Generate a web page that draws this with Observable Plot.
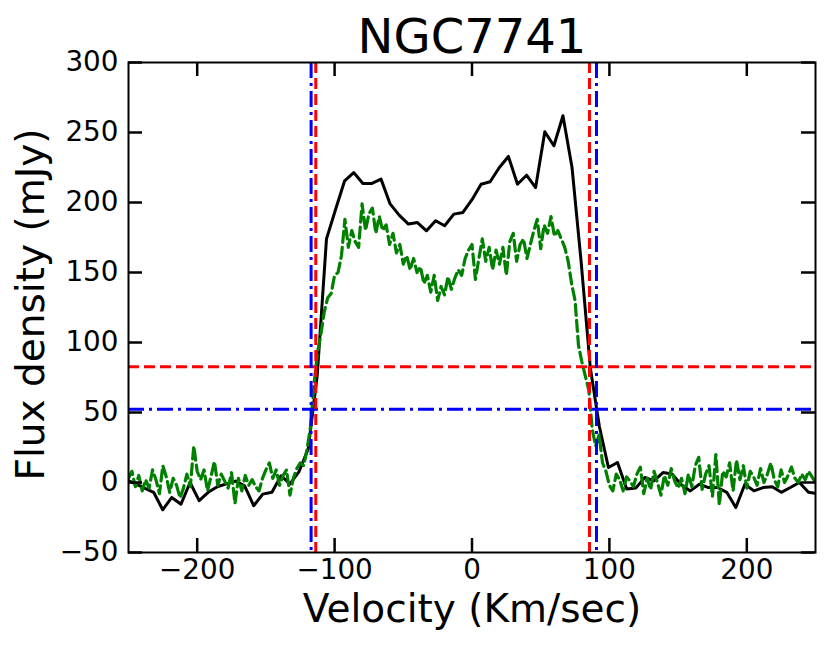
<!DOCTYPE html>
<html>
<head>
<meta charset="utf-8">
<script src="https://cdn.jsdelivr.net/npm/d3@7"></script>
<script src="https://cdn.jsdelivr.net/npm/@observablehq/plot@0.6"></script>
<style>
  html, body { margin: 0; padding: 0; background: #fff; }
</style>
</head>
<body>
<div id="chart"></div>
<script>
const title = "NGC7741";
const xLabel = "Velocity (Km/sec)";
const yLabel = "Flux density (mJy)";
const xTicks = [-200, -100, 0, 100, 200];
const yTicks = [-50, 0, 50, 100, 150, 200, 250, 300];

const blackVel = [-251.6, -244.9, -238.3, -231.7, -225.1, -218.5, -211.8, -205.2, -198.6, -192.0, -185.4, -178.7, -172.1, -165.5, -158.9, -152.3, -145.6, -139.0, -132.4, -125.8, -119.2, -112.6, -105.9, -99.3, -92.7, -86.1, -79.4, -72.8, -66.2, -59.6, -53.0, -46.3, -39.7, -33.1, -26.5, -19.9, -13.2, -6.6, 0, 6.6, 13.2, 19.9, 26.5, 33.1, 39.7, 46.3, 53.0, 59.6, 66.2, 72.8, 79.4, 86.1, 92.7, 99.3, 105.9, 112.6, 119.2, 125.8, 132.4, 139.0, 145.6, 152.3, 158.9, 165.5, 172.1, 178.7, 185.4, 192.0, 198.6, 205.2, 211.8, 218.5, 225.1, 231.7, 238.3, 244.9, 251.6];
const blackFlux = [2, -1, -4, -7, -19.5, -10.7, -15.5, 0, -13, -7, -3, -1, 1, -2.4, -16.6, -8.3, -7, 4.8, -1, 8, 24, 77, 174, 195, 215.5, 221.4, 213.6, 213.6, 216.7, 199, 191, 184.6, 185.7, 179.8, 187, 183.4, 191.7, 192.9, 202, 213, 214.8, 225, 232.9, 213, 219.5, 210.7, 250.5, 240.5, 262, 225, 158, 82, 40, 10.7, 14.3, -4.7, -4, 3.6, 1.2, 7.1, 6, -1.6, -6, -1.2, -3.6, -3.6, -7, -17.9, -1.2, -6, -3.6, -3, -7, -3.6, 0, -7, -8];

const greenVel = [-250, -247.5, -245, -242.5, -240, -237.5, -235, -232.5, -230, -227.5, -225, -222.5, -220, -217.5, -215, -212.5, -210, -207.5, -205, -202.5, -200, -197.5, -195, -192.5, -190, -187.5, -185, -182.5, -180, -177.5, -175, -172.5, -170, -167.5, -165, -162.5, -160, -157.5, -155, -152.5, -150, -147.5, -145, -142.5, -140, -137.5, -135, -132.5, -130, -127.5, -125, -122.5, -120, -117.5, -115, -112.5, -110, -107.5, -105, -102.5, -100, -97.5, -95, -92.5, -90, -87.5, -85, -82.5, -80, -77.5, -75, -72.5, -70, -67.5, -65, -62.5, -60, -57.5, -55, -52.5, -50, -47.5, -45, -42.5, -40, -37.5, -35, -32.5, -30, -27.5, -25, -22.5, -20, -17.5, -15, -12.5, -10, -7.5, -5, -2.5, 0, 2.5, 5, 7.5, 10, 12.5, 15, 17.5, 20, 22.5, 25, 27.5, 30, 32.5, 35, 37.5, 40, 42.5, 45, 47.5, 50, 52.5, 55, 57.5, 60, 62.5, 65, 67.5, 70, 72.5, 75, 77.5, 80, 82.5, 85, 87.5, 90, 92.5, 95, 97.5, 100, 102.5, 105, 107.5, 110, 112.5, 115, 117.5, 120, 122.5, 125, 127.5, 130, 132.5, 135, 137.5, 140, 142.5, 145, 147.5, 150, 152.5, 155, 157.5, 160, 162.5, 165, 167.5, 170, 172.5, 175, 177.5, 180, 182.5, 185, 187.5, 190, 192.5, 195, 197.5, 200, 202.5, 205, 207.5, 210, 212.5, 215, 217.5, 220, 222.5, 225, 227.5, 230, 232.5, 235, 237.5, 240, 242.5, 245, 247.5, 250];
const greenFlux = [3, 8, -3, 5, -6, 2, -4, 9, 2, -8, 12, 4, -7, 3, -2, -11, -4, 6, -3, 26, 8, 2, 9, -6, 4, 15, -2, 6, 1, -4, 7, -15, 3, -6, 5, -2, 2, -3, -6, 3, 9, 14, 3, 9, -2, 5, 9, -9, 3, 10, 14,
  12, 24, 40, 70, 92, 106, 122, 132, 135, 148, 150, 162, 188, 168, 180, 172, 168, 199, 180, 192, 196, 178, 190, 180, 184, 170, 178, 164, 170, 156, 162, 152, 160, 150, 154, 142, 148, 136, 148, 130, 140, 134, 147, 138, 146, 152, 148, 160, 166, 170,
  145, 160, 174, 158, 168, 152, 166, 156, 168, 148, 172, 178, 158, 170, 174, 160, 170, 180, 188, 167, 184, 178, 190, 176, 180, 174, 168, 158, 142, 130, 98, 86, 76, 66, 38, 26, 34, 14, 8, -2, -6, 6, 2, -6, 4, 1, -3, 6, 11, -8, 3, -5, 8, 0, -9, 5, -2, 10, 1, -4, 3, -8, 6, -3, 12, 18, -5, 6, 12, -10, 20, -16, 8, 4, 14, -6, 16, 2, 12, -4, 8, 4, -2, 10, 0, 6, 14, 2, -3, 9, 0, 5, 11, 3, 0, 6, 2, 8, 4, 0];

const hLineValues = [82.6, 52.4];
const hLineColors = ["red", "blue"];
const vLineRed = [-113.7, 85.5];
const vLineBlue = [-117.1, 90.6];

const W = 830, H = 646;
const mL = 128, mR = 15, mT = 62, mB = 94;
const plotW = W - mL - mR, plotH = H - mT - mB;
const tickLen = 14;

const black = blackVel.map((v, i) => ({v, f: blackFlux[i]}));
const green = greenVel.map((v, i) => ({v, f: greenFlux[i]}));
const fmt = d => d < 0 ? "\u2212" + Math.abs(d) : String(d);

const chart = Plot.plot({
  width: W,
  height: H,
  marginLeft: mL,
  marginRight: mR,
  marginTop: mT,
  marginBottom: mB,
  style: {fontFamily: "DejaVu Sans", fontSize: "27.8px", color: "black", background: "white"},
  x: {domain: [-250, 250], ticks: xTicks, tickSize: 0, tickPadding: 7, tickFormat: fmt, label: null},
  y: {domain: [-50, 300], ticks: yTicks, tickSize: 0, tickPadding: 10, tickFormat: fmt, label: null},
  marks: [
    Plot.line(black, {x: "v", y: "f", stroke: "black", strokeWidth: 3, clip: true}),
    Plot.line(green, {x: "v", y: "f", stroke: "green", strokeWidth: 3.2, strokeDasharray: "11,5", clip: true}),
    Plot.ruleY([hLineValues[0]], {y: d => d, stroke: hLineColors[0], strokeWidth: 3, strokeDasharray: "11,5"}),
    Plot.ruleY([hLineValues[1]], {y: d => d, stroke: hLineColors[1], strokeWidth: 3, strokeDasharray: "16,5,3,5"}),
    Plot.ruleX(vLineRed, {x: d => d, stroke: "red", strokeWidth: 3, strokeDasharray: "11,5"}),
    Plot.ruleX(vLineBlue, {x: d => d, stroke: "blue", strokeWidth: 3, strokeDasharray: "16,5,3,5"}),
    Plot.frame({stroke: "black", strokeWidth: 2}),
    Plot.tickX(xTicks, {x: d => d, insetTop: plotH - tickLen, stroke: "black", strokeWidth: 2.5}),
    Plot.tickX(xTicks, {x: d => d, insetBottom: plotH - tickLen, stroke: "black", strokeWidth: 2.5}),
    Plot.tickY(yTicks, {y: d => d, insetRight: plotW - tickLen, stroke: "black", strokeWidth: 2.5}),
    Plot.tickY(yTicks, {y: d => d, insetLeft: plotW - tickLen, stroke: "black", strokeWidth: 2.5}),
    Plot.text([title], {text: d => d, frameAnchor: "top", dy: -10, lineAnchor: "bottom", fontSize: 48, fill: "black"}),
    Plot.text([xLabel], {text: d => d, frameAnchor: "bottom", dy: 69, lineAnchor: "bottom", fontSize: 39, fill: "black"}),
    Plot.text([yLabel], {text: d => d, frameAnchor: "left", dx: -85, dy: -3, rotate: -90, textAnchor: "middle", lineAnchor: "bottom", fontSize: 39, fill: "black"})
  ]
});
document.getElementById("chart").appendChild(chart);
</script>
</body>
</html>
